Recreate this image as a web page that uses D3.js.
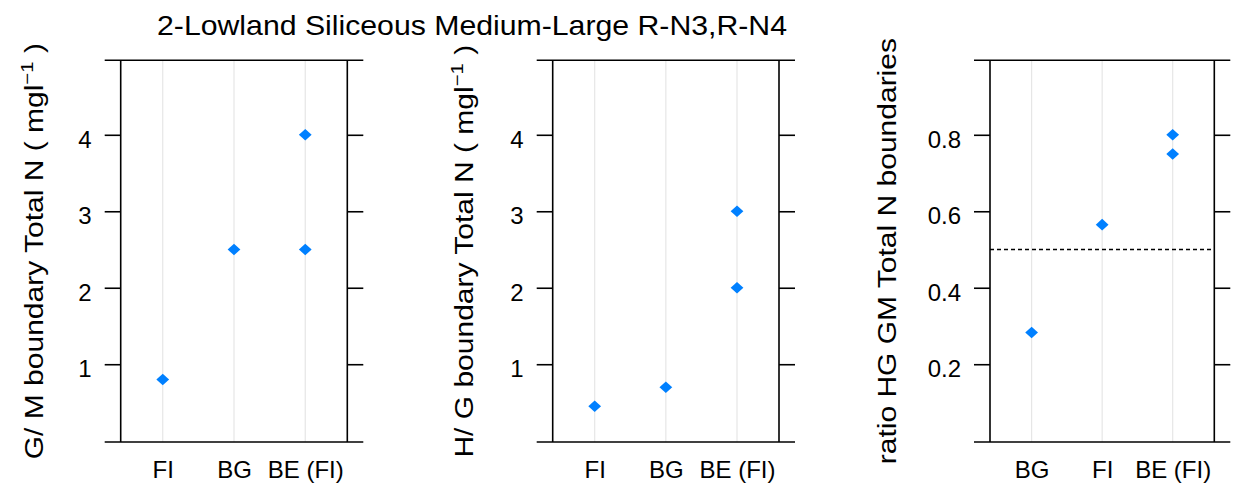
<!DOCTYPE html>
<html><head><meta charset="utf-8">
<script src="https://cdn.jsdelivr.net/npm/d3@7"></script>
<style>body{margin:0;background:#fff;} text{font-family:"Liberation Sans",Arial,sans-serif;fill:#000;}</style>
</head><body>
<svg id="c" width="1235" height="489"></svg>
<script>
const title = "2-Lowland Siliceous Medium-Large R-N3,R-N4";
// Panel 1: G/M boundary
const p1Categories = ["FI", "BG", "BE (FI)"];
const p1Points = [["FI", 0.8], ["BG", 2.5], ["BE (FI)", 4.0], ["BE (FI)", 2.5]];
const p1Ticks = [1, 2, 3, 4];
// Panel 2: H/G boundary
const p2Categories = ["FI", "BG", "BE (FI)"];
const p2Points = [["FI", 0.45], ["BG", 0.7], ["BE (FI)", 3.0], ["BE (FI)", 2.0]];
const p2Ticks = [1, 2, 3, 4];
// Panel 3: ratio
const p3Categories = ["BG", "FI", "BE (FI)"];
const p3Points = [["BG", 0.283], ["FI", 0.565], ["BE (FI)", 0.80], ["BE (FI)", 0.75]];
const p3Ticks = [0.2, 0.4, 0.6, 0.8];
const p3RefLine = 0.5;

const svg = d3.select("#c");
const FS = 24;
const FF = "Liberation Sans, Arial, sans-serif";

svg.append("text").attr("transform", "translate(472,35) scale(1.08,1)").attr("text-anchor", "middle")
  .style("font-size", "28px").text(title);

const panels = [
  {left: 120.7, right: 347.3, cats: p1Categories, pts: p1Points, ticks: p1Ticks, dom: [-0.017, 4.974], fmt: d3.format("d"), labX: 43, label: "G/M"},
  {left: 552.7, right: 779, cats: p2Categories, pts: p2Points, ticks: p2Ticks, dom: [-0.017, 4.974], fmt: d3.format("d"), labX: 473, label: "H/G"},
  {left: 990, right: 1214.3, cats: p3Categories, pts: p3Points, ticks: p3Ticks, dom: [-0.0034, 0.9948], fmt: d3.format(".1f"), labX: 896, label: "ratio", ref: p3RefLine}
];
const pTop = 60.3, pBottom = 442;

panels.forEach(p => {
  const g = svg.append("g");
  const x = d3.scalePoint().domain(p.cats).range([p.left, p.right]).padding(0.59);
  const y = d3.scaleLinear().domain(p.dom).range([pBottom, pTop]);
  // grid
  g.selectAll("line.grid").data(p.cats).enter().append("line")
    .attr("x1", d => x(d)).attr("x2", d => x(d)).attr("y1", pTop).attr("y2", pBottom)
    .attr("stroke", "#e6e6e6").attr("stroke-width", 1.2);
  // reference line
  if (p.ref !== undefined) {
    g.append("line").attr("x1", p.left).attr("x2", p.right).attr("y1", y(p.ref)).attr("y2", y(p.ref))
      .attr("stroke", "#000").attr("stroke-width", 1.3).attr("stroke-dasharray", "4,3");
  }
  // axes
  const tl = 16;
  const axL = d3.axisLeft(y).tickValues(p.ticks).tickSize(tl).tickFormat(p.fmt);
  const gl = g.append("g").attr("transform", `translate(${p.left},0)`).call(axL);
  gl.select(".domain").remove();
  gl.selectAll("line").attr("stroke", "#000").attr("stroke-width", 1.6);
  gl.selectAll("text").style("font-size", FS + "px").style("font-family", FF)
    .attr("x", -tl - 13).attr("dy", "0.36em").attr("transform", "translate(0,4)").attr("fill", "#000");
  const axR = d3.axisRight(y).tickValues(p.ticks).tickSize(tl).tickFormat("");
  const gr = g.append("g").attr("transform", `translate(${p.right},0)`).call(axR);
  gr.select(".domain").remove();
  gr.selectAll("line").attr("stroke", "#000").attr("stroke-width", 1.6);
  const axB = d3.axisBottom(x).tickSize(0);
  const gb = g.append("g").attr("transform", `translate(0,${pBottom})`).call(axB);
  gb.select(".domain").remove();
  gb.selectAll("text").style("font-size", FS + "px").style("font-family", FF)
    .attr("y", 0).attr("dy", 36).attr("fill", "#000");
  // box
  const box = [[p.left - tl, pTop, p.right + tl, pTop], [p.left - tl, pBottom, p.right + tl, pBottom],
               [p.left, pTop, p.left, pBottom], [p.right, pTop, p.right, pBottom]];
  g.selectAll("line.box").data(box).enter().append("line")
    .attr("x1", d => d[0]).attr("y1", d => d[1]).attr("x2", d => d[2]).attr("y2", d => d[3])
    .attr("stroke", "#000").attr("stroke-width", 1.6);
  // points (diamonds)
  const sym = d3.symbol().type(d3.symbolSquare).size(74);
  g.selectAll("path.pt").data(p.pts).enter().append("path")
    .attr("d", sym).attr("fill", "#0080ff")
    .attr("transform", d => `translate(${x(d[0])},${y(d[1])}) scale(1.05,0.95) rotate(45)`);
  // y label
  const cy = (pTop + pBottom) / 2;
  const t = svg.append("text").attr("transform", `translate(${p.labX},${cy}) rotate(-90) scale(1.2,1)`)
    .attr("text-anchor", "middle").style("font-size", "25px");
  if (p.label === "ratio") {
    t.text("ratio HG GM Total N boundaries");
  } else {
    t.append("tspan").text(p.label.replace("/", "/ ") + " boundary Total N ( mgl");
    t.append("tspan").attr("dy", -10).style("font-size", "17px").text("\u22121");
    t.append("tspan").attr("dy", 10).text(" )");
  }
});
</script>
</body></html>
